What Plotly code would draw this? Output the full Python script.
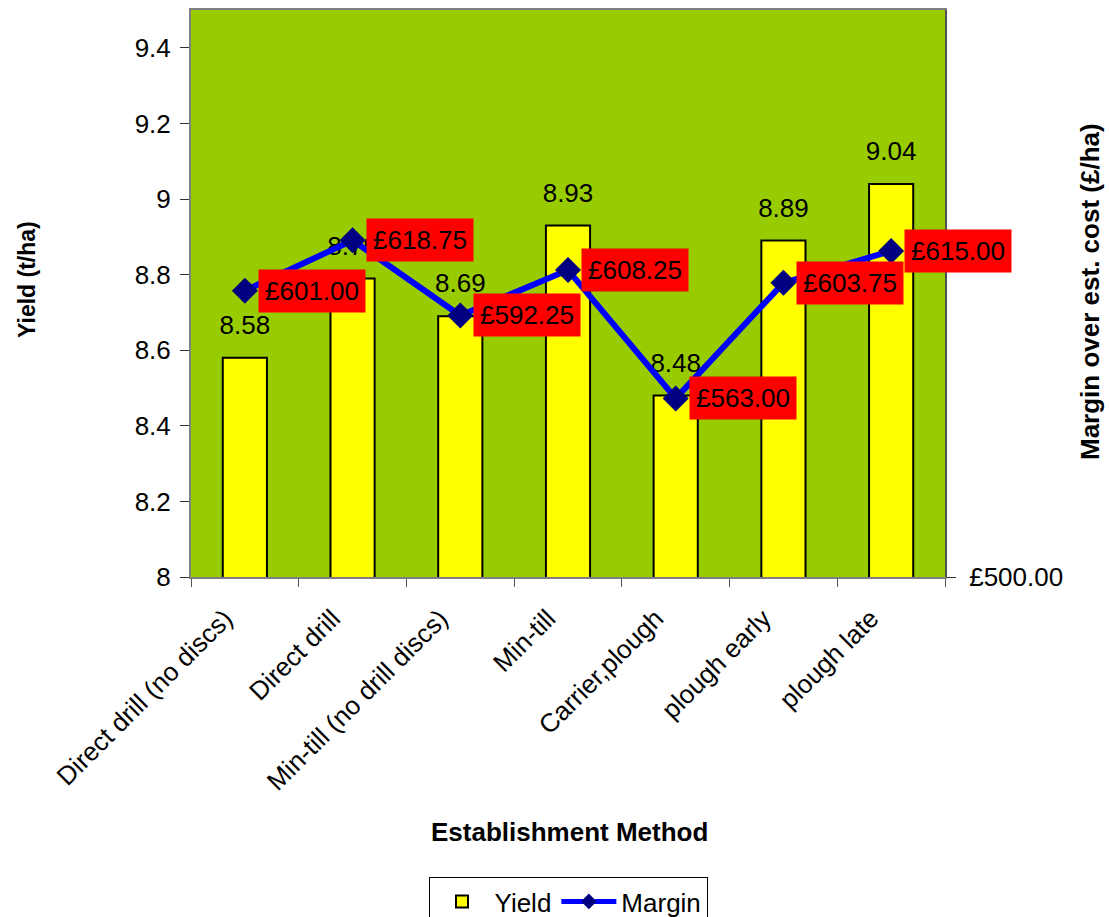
import plotly.graph_objects as go

# Establishment trial: yield and margin per method
methods = [
    "Direct drill (no discs)",
    "Direct drill",
    "Min-till (no drill discs)",
    "Min-till",
    "Carrier,plough",
    "plough early",
    "plough late",
]
yield_t_ha = [8.58, 8.79, 8.69, 8.93, 8.48, 8.89, 9.04]
margin_gbp = [601.00, 618.75, 592.25, 608.25, 563.00, 603.75, 615.00]

yield_ticks = [8, 8.2, 8.4, 8.6, 8.8, 9, 9.2, 9.4]
margin_ticks = [500]
margin_tick_text = ["£500.00"]

FONT = "Liberation Sans, Arial, sans-serif"
W, H = 1109, 917
L, R, T, B = 191, 164, 10, 340
plot_w = W - L - R
plot_h = H - T - B


def px_x(px):
    return (px - L) / plot_w


def px_y(py):
    return (H - B - py) / plot_h


fig = go.Figure()

fig.add_trace(go.Bar(
    x=methods,
    y=yield_t_ha,
    name="Yield",
    marker=dict(color="#FFFF00", line=dict(color="#000000", width=2)),
    cliponaxis=False,
))

# yield value labels sitting above each bar (transparent anchor markers set the gap)
fig.add_trace(go.Scatter(
    x=methods,
    y=yield_t_ha,
    mode="markers+text",
    text=[f"{v:.2f}" for v in yield_t_ha],
    textposition="top center",
    marker=dict(size=26, color="rgba(0,0,0,0)"),
    textfont=dict(family=FONT, size=26, color="#000000"),
    showlegend=False,
    hoverinfo="skip",
    cliponaxis=False,
))

fig.add_trace(go.Scatter(
    x=methods,
    y=margin_gbp,
    name="Margin",
    yaxis="y2",
    mode="lines+markers",
    line=dict(color="#0000FF", width=6),
    marker=dict(symbol="diamond", size=20, color="#000080"),
    cliponaxis=False,
))

# red value boxes beside each margin marker
for m, v in zip(methods, margin_gbp):
    fig.add_annotation(
        x=m, y=v, xref="x", yref="y2",
        text=f"£{v:.2f}",
        showarrow=False,
        xanchor="left", yanchor="middle",
        xshift=13,
        bgcolor="#FF0000",
        borderpad=6,
        font=dict(family=FONT, size=26, color="#000000"),
    )

# axis titles
fig.add_annotation(
    x=px_x(27), y=px_y(280), xref="paper", yref="paper",
    xanchor="center", yanchor="middle",
    text="<b>Yield (t/ha)</b>", textangle=-90, showarrow=False,
    font=dict(family=FONT, size=23, color="#000000"),
)
fig.add_annotation(
    x=px_x(1090), y=px_y(292), xref="paper", yref="paper",
    xanchor="center", yanchor="middle",
    text="<b>Margin over est. cost (£/ha)</b>", textangle=-90, showarrow=False,
    font=dict(family=FONT, size=26, color="#000000"),
)
fig.add_annotation(
    x=px_x(569), y=px_y(832), xref="paper", yref="paper",
    xanchor="center", yanchor="middle",
    text="<b>Establishment Method</b>", showarrow=False,
    font=dict(family=FONT, size=26, color="#000000"),
)

n = len(methods)
boundaries = [i - 0.5 for i in range(n + 1)]

fig.update_layout(
    width=W, height=H,
    margin=dict(l=L, r=R, t=T, b=B, pad=0, autoexpand=False),
    paper_bgcolor="#FFFFFF",
    plot_bgcolor="#99CC00",
    font=dict(family=FONT, size=26, color="#000000"),
    bargap=0.59,
    showlegend=True,
    legend=dict(
        orientation="h",
        x=0.5, xanchor="center",
        y=px_y(877), yanchor="top",
        bordercolor="#000000", borderwidth=1,
        bgcolor="#FFFFFF",
        font=dict(family=FONT, size=26, color="#000000"),
        itemsizing="constant",
        itemwidth=55,
        tracegroupgap=0,
    ),
    xaxis=dict(
        type="category",
        categoryorder="array", categoryarray=methods,
        range=[-0.5, n - 0.5],
        tickangle=-45,
        tickson="boundaries",
        ticks="outside", ticklen=8, tickcolor="#555555", tickwidth=1,
        ticklabelstandoff=14,
        ticklabelshift=-20,
        showline=True, linecolor="#808080", linewidth=2,
        mirror=True,
        showgrid=False,
        tickfont=dict(family=FONT, size=26, color="#000000"),
    ),
    xaxis2=dict(
        overlaying="x", anchor="y",
        range=[-0.5, n - 0.5],
        tickvals=boundaries,
        ticks="inside", ticklen=8, tickcolor="#555555", tickwidth=1,
        showticklabels=False, showgrid=False, showline=False, zeroline=False,
    ),
    yaxis=dict(
        range=[8, 9.5],
        tickvals=yield_ticks,
        ticks="outside", ticklen=9, tickcolor="#333333", tickwidth=1,
        ticklabelstandoff=4,
        showline=True, linecolor="#808080", linewidth=2,
        showgrid=False, zeroline=False,
        tickfont=dict(family=FONT, size=26, color="#000000"),
    ),
    yaxis3=dict(
        overlaying="y", anchor="x", side="left",
        range=[8, 9.5],
        tickvals=yield_ticks,
        ticks="inside", ticklen=8, tickcolor="#333333", tickwidth=1,
        showticklabels=False, showgrid=False, showline=False, zeroline=False,
    ),
    yaxis2=dict(
        overlaying="y", side="right", anchor="x",
        range=[500, 700],
        tickvals=margin_ticks,
        ticktext=margin_tick_text,
        ticks="outside", ticklen=9, tickcolor="#333333", tickwidth=1,
        ticklabelstandoff=8,
        showline=True, linecolor="#505050", linewidth=2,
        showgrid=False, zeroline=False,
        tickfont=dict(family=FONT, size=26, color="#000000"),
    ),
)

fig.write_html("out.html")
